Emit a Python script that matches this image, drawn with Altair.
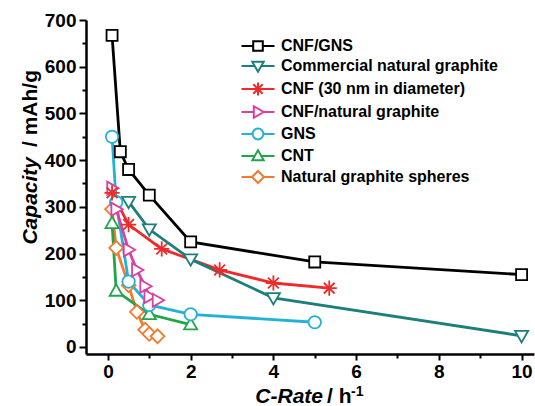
import altair as alt
import pandas as pd

# ---------------- data ----------------
series = ["CNF/GNS", "Commercial natural graphite", "CNF (30 nm in diameter)",
          "CNF/natural graphite", "GNS", "CNT", "Natural graphite spheres"]
colors = ["#000000", "#1c7f79", "#ee2a2a", "#d940a2", "#22b2d6", "#22a54a", "#f47a30"]

cnf_gns_x = [0.1, 0.3, 0.5, 1.0, 2.0, 5.0, 10.0]
cnf_gns_y = [667, 418, 380, 325, 225, 182, 155]

commercial_x = [0.5, 1.0, 2.0, 4.0, 10.0]
commercial_y = [311, 252, 188, 105, 24]

cnf30_x = [0.1, 0.5, 1.3, 2.7, 4.0, 5.35]
cnf30_y = [330, 262, 210, 165, 137, 126]

cnf_ng_x = [0.1, 0.2, 0.5, 0.7, 0.9, 1.0, 1.2]
cnf_ng_y = [340, 295, 208, 165, 130, 108, 100]

gns_x = [0.1, 0.2, 0.5, 1.0, 2.0, 5.0]
gns_y = [450, 310, 140, 90, 70, 53]

cnt_x = [0.1, 0.2, 1.0, 2.0]
cnt_y = [265, 120, 70, 48]

ngs_x = [0.1, 0.2, 0.5, 0.7, 0.9, 1.0, 1.2]
ngs_y = [295, 212, 132, 75, 37, 28, 23]

xs = [cnf_gns_x, commercial_x, cnf30_x, cnf_ng_x, gns_x, cnt_x, ngs_x]
ys = [cnf_gns_y, commercial_y, cnf30_y, cnf_ng_y, gns_y, cnt_y, ngs_y]

x_major = [0, 2, 4, 6, 8, 10]
x_minor = [1, 3, 5, 7, 9]
y_major = [0, 100, 200, 300, 400, 500, 600, 700]
y_minor = [50, 150, 250, 350, 450, 550, 650]

# ---------------- marker shapes ----------------
marker_paths = [
    "M-0.8,-0.8H0.8V0.8H-0.8Z",
    "M-0.95,-0.7H0.95L0,0.95Z",
    "M-1.1,0H1.1M0,-1.1V1.1M-0.78,-0.78L0.78,0.78M-0.78,0.78L0.78,-0.78",
    "M-0.7,-0.95V0.95L0.95,0Z",
    "M-0.9,0A0.9,0.9,0,1,0,0.9,0A0.9,0.9,0,1,0,-0.9,0Z",
    "M-0.95,0.7H0.95L0,-0.95Z",
    "M-1,0L0,-1L1,0L0,1Z",
]
gaps = [(-0.8, 0.8), (-0.55, 0.55), None, (-0.7, 0.95), (-0.9, 0.9), (-0.55, 0.55), (-1, 1)]
legend_paths = []
for p, g in zip(marker_paths, gaps):
    if g is None:
        legend_paths.append("M-2.75,0H2.75" + p)
    else:
        legend_paths.append(f"M-2.75,0H{g[0]}M{g[1]},0H2.75" + p)

# draw order for points: first series on top
rows = []
for k in reversed(range(len(series))):
    for xv, yv in zip(xs[k], ys[k]):
        rows.append({"series": series[k], "rate": xv, "cap": yv})
df = pd.DataFrame(rows)

FONT = "Liberation Sans"
xscale = alt.Scale(domain=[-0.53, 10.3], nice=False, zero=False)
yscale = alt.Scale(domain=[-15, 700], nice=False, zero=False)

major_common = dict(tickWidth=2, tickColor="black", labelFont=FONT, labelFontSize=19,
                    labelFontWeight="bold", labelColor="black", grid=False, title=None,
                    domainColor="black", domainWidth=2.5, labelOverlap=False,
                    labelFlush=False, format="d")

x_axis_major = alt.Axis(values=x_major, orient="bottom", tickSize=6, labelPadding=2, **major_common)
y_axis_major = alt.Axis(values=y_major, orient="left", tickSize=7, labelPadding=3, **major_common)
minor_common = dict(labels=False, domain=False, grid=False, title=None, tickWidth=2,
                    tickColor="black", tickSize=4)
x_axis_minor = alt.Axis(values=x_minor, orient="bottom", **minor_common)
y_axis_minor = alt.Axis(values=y_minor, orient="left", **minor_common)

lines = alt.Chart(df).mark_line(strokeWidth=2.8).encode(
    x=alt.X("rate:Q", scale=xscale, axis=x_axis_major),
    y=alt.Y("cap:Q", scale=yscale, axis=y_axis_major),
    color=alt.Color("series:N", scale=alt.Scale(domain=series, range=colors), legend=None),
    detail="series:N",
)

points = alt.Chart(df).mark_point(fill="white", filled=True, opacity=1, size=190,
                                  strokeWidth=1.8).encode(
    x=alt.X("rate:Q", scale=xscale, axis=x_axis_minor),
    y=alt.Y("cap:Q", scale=yscale, axis=y_axis_minor),
    stroke=alt.Stroke("series:N", scale=alt.Scale(domain=series, range=colors), legend=None),
    shape=alt.Shape("series:N", scale=alt.Scale(domain=series, range=marker_paths), legend=None),
)

leg = alt.Legend(title=None, orient="none", legendX=164, legendY=18, padding=0,
                 labelFont=FONT, labelFontSize=16, labelFontWeight="bold",
                 labelColor="black", labelLimit=400, symbolSize=144,
                 symbolStrokeWidth=2, labelOffset=15, rowPadding=2,
                 symbolFillColor="white")

legend_layer = alt.Chart(df).transform_filter("false").mark_point(
    filled=False, opacity=1, size=144, strokeWidth=2).encode(
    x=alt.X("rate:Q", scale=xscale, axis=None),
    y=alt.Y("cap:Q", scale=yscale, axis=None),
    stroke=alt.Stroke("series:N", scale=alt.Scale(domain=series, range=colors), legend=leg),
    shape=alt.Shape("series:N", scale=alt.Scale(domain=series, range=legend_paths), legend=leg),
)

one = pd.DataFrame({"a": [0]})


def label(text, x, y, angle=0, align="left", baseline="alphabetic", size=21, style="normal"):
    return alt.Chart(one).mark_text(
        text=text, font=FONT, fontSize=size, fontWeight="bold", fontStyle=style,
        color="black", align=align, baseline=baseline, angle=angle,
    ).encode(x=alt.value(x), y=alt.value(y))


titles = [
    label("Capacity", -55, 137, angle=270, align="right", baseline="middle", style="italic"),
    label("/ mAh/g", -55, 127, angle=270, align="left", baseline="middle"),
    label("C-Rate", 237, 383, align="right", style="italic"),
    label("/ h", 241, 383, align="left"),
    label("-1", 265, 376, align="left", size=14),
]

chart = alt.layer(lines, points, legend_layer, *titles).resolve_scale(
    shape="independent", stroke="independent"
).resolve_axis(x="independent", y="independent").properties(
    width=448, height=334, autosize="none",
    padding={"left": 86, "top": 20, "right": 1, "bottom": 52},
    background="white",
).configure_view(stroke=None)

chart.save("out.html", embed_options={"renderer": "svg", "actions": False})
